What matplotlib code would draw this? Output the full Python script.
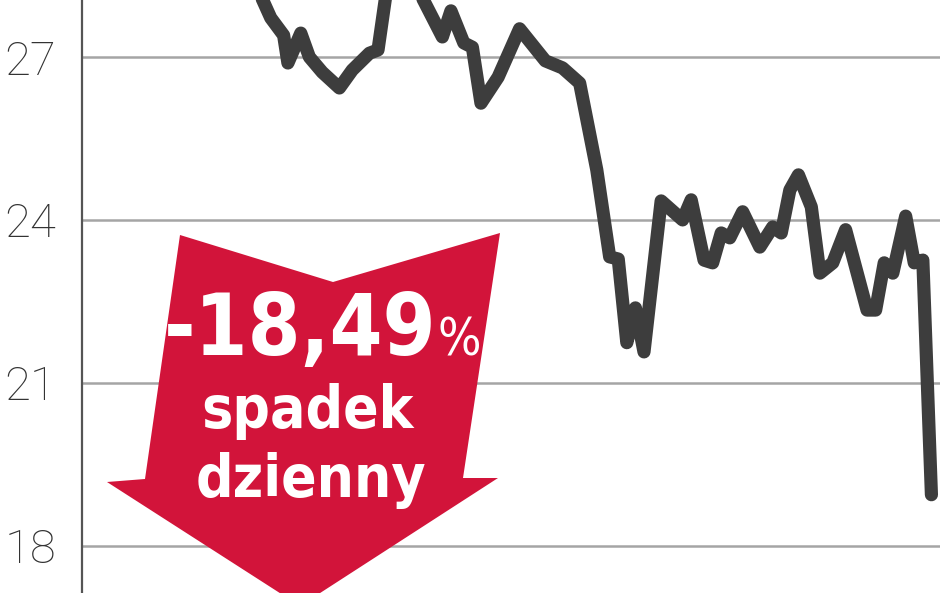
import matplotlib
matplotlib.use("Agg")
import matplotlib.pyplot as plt
from matplotlib import font_manager
from matplotlib.patches import Polygon

# Data (session index, closing price)
sesje = [40, 44, 47, 48, 51, 53, 56, 60, 63, 67, 69, 71, 74, 79, 84, 86, 89, 91, 93, 97,
         102, 108, 112, 116, 120, 123, 125, 127, 129, 131, 135, 140, 142, 145, 147, 149,
         151, 154, 158, 161, 163, 165, 167, 170, 172, 175, 178, 183, 185, 187, 189, 192,
         194, 196, 198]
kurs = [28.42, 27.72, 27.40, 26.89, 27.44, 27.00, 26.72, 26.43, 26.76, 27.07, 27.13, 28.23,
        28.79, 28.14, 27.37, 27.85, 27.26, 27.18, 26.15, 26.63, 27.52, 26.93, 26.80, 26.52,
        24.92, 23.32, 23.28, 21.74, 22.38, 21.57, 24.35, 24.00, 24.37, 23.26, 23.21, 23.76,
        23.67, 24.15, 23.50, 23.87, 23.76, 24.55, 24.83, 24.24, 23.02, 23.21, 23.82, 22.34,
        22.34, 23.21, 23.02, 24.07, 23.21, 23.26, 18.94]
y_ticks = [18, 21, 24, 27]
y_labels = ["18", "21", "24", "27"]
label_main = "-18,49"
label_pct = "%"
label_l2 = "spadek"
label_l3 = "dzienny"

names = {f.name for f in font_manager.fontManager.ttflist}
tick_font = "Roboto" if "Roboto" in names else "DejaVu Sans"
if "DejaVu Sans Condensed" in names:
    text_font, stretch, condensed = "DejaVu Sans Condensed", "normal", True
else:
    text_font, stretch = "DejaVu Sans", "condensed"
    condensed = any(f.name == "DejaVu Sans" and f.stretch == "condensed"
                    for f in font_manager.fontManager.ttflist)

W, H = 948, 593
fig = plt.figure(figsize=(W / 100, H / 100), dpi=100)
ax = fig.add_axes([82 / W, 0, (940 - 82) / W, 1])

ax.set_xlim(0, 200)
ax.set_ylim(17.13, 28.05)

ax.set_yticks(y_ticks)
ax.set_yticklabels(y_labels, fontfamily=tick_font, fontweight="light",
                   fontsize=34, color="#333333")
for lab in ax.get_yticklabels():
    lab.set_horizontalalignment("left")
ax.tick_params(axis="y", length=0, pad=56)
ax.set_xticks([])

for s in ["top", "right", "bottom"]:
    ax.spines[s].set_visible(False)
ax.spines["left"].set_color("#555555")
ax.spines["left"].set_linewidth(1.6)

ax.grid(axis="y", color="#a5a5a5", linewidth=1.8, zorder=0)
ax.set_axisbelow(True)

ax.plot(sesje, kurs, color="#3d3d3d", linewidth=9.5, solid_joinstyle="round",
        solid_capstyle="round", zorder=3, clip_on=True)

# red arrow annotation (figure pixel coordinates converted to fractions)
def f(px, py):
    return (px / W, 1 - py / H)

arrow_px = [(180, 235), (333, 282), (500, 233), (463, 478), (498, 478),
            (300, 606), (107, 482), (145, 479)]
poly = Polygon([f(*p) for p in arrow_px], closed=True, transform=fig.transFigure,
               facecolor="#d2143a", edgecolor="none", zorder=2)
ax.add_patch(poly)
poly.set_clip_on(False)

fs_main = 61 if condensed else 52
fs_sub = 42 if condensed else 38
x, y = f(437, 355)
fig.text(x, y, label_main, ha="right", va="baseline", color="white",
         fontfamily=text_font, fontstretch=stretch, fontweight="bold",
         fontsize=fs_main, zorder=5)
fig.text(x + 1 / W, y, label_pct, ha="left", va="baseline", color="white",
         fontfamily=text_font, fontstretch=stretch, fontweight="normal",
         fontsize=fs_main * 0.6, zorder=5)
x, y = f(308, 428)
fig.text(x, y, label_l2, ha="center", va="baseline", color="white",
         fontfamily=text_font, fontstretch=stretch, fontweight="bold",
         fontsize=fs_sub, zorder=5)
x, y = f(311, 497)
fig.text(x, y, label_l3, ha="center", va="baseline", color="white",
         fontfamily=text_font, fontstretch=stretch, fontweight="bold",
         fontsize=fs_sub, zorder=5)

fig.savefig("out.png", dpi=100, facecolor="white")
